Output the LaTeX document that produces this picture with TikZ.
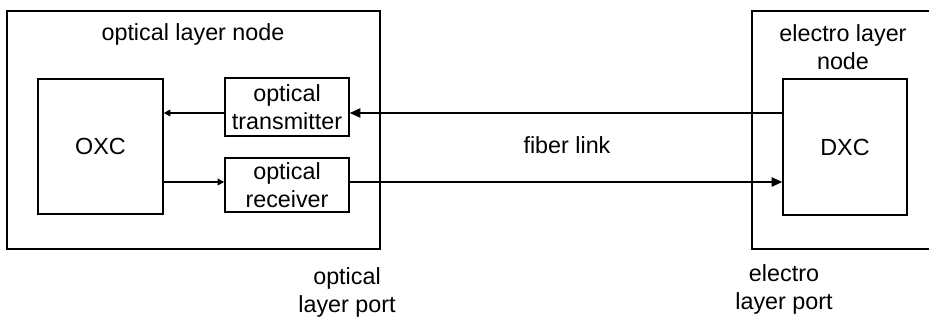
\documentclass[tikz,border=0pt]{standalone}
\usepackage{fontspec}
\setmainfont{Liberation Sans}
\usetikzlibrary{positioning,arrows.meta}

\begin{document}
\begin{tikzpicture}[x=0.75pt, y=-0.75pt, line width=1.1pt,
        every node/.style={font=\fontsize{17.5pt}{21pt}\selectfont, align=center},
        box/.style={draw, rectangle, inner sep=1pt},
        smalltip/.style={-{Triangle[length=5pt,width=5pt]}},
        bigtip/.style={-{Triangle[length=8pt,width=7pt]}} ]

    \useasboundingbox (0,0) rectangle (929,323);

    % layer nodes
    \node[box, minimum width=279.75pt, minimum height=178.5pt] (optnode) at (193.5,130) {};
    \node[box, minimum width=148.5pt, minimum height=178.5pt] (elenode) at (851,130) {};
    \node (optname) at (193,34) {optical layer node};
    \node (elename) at (843,47) {electro layer\\node};

    % cross connects and transceivers
    \node[box, minimum width=93.75pt, minimum height=101.25pt] (oxc) at (100.5,146.5) {OXC};
    \node[box, minimum width=93pt, minimum height=43.5pt] (tx) at (287,107) {optical\\transmitter};
    \node[box, minimum width=93pt, minimum height=40.5pt] (rx) at (287,185) {optical\\receiver};
    \node[box, minimum width=93pt, minimum height=102pt] (dxc) at (845,147) {DXC};

    \coordinate (up) at (0,113);
    \coordinate (dn) at (0,182);

    \draw[smalltip] (tx.west |- up) -- (oxc.east |- up);
    \draw[smalltip] (oxc.east |- dn) -- (rx.west |- dn);
    \draw[bigtip] (dxc.west |- up) -- (tx.east |- up);
    \draw[bigtip] (rx.east |- dn) -- (dxc.west |- dn);

    % labels
    \node (fiber) at (567,145) {fiber link};
    \node (optport) at (347,292) {optical\\layer port};
    \node (eleport) at (784,289) {electro\\layer port};

\end{tikzpicture}
\end{document}
